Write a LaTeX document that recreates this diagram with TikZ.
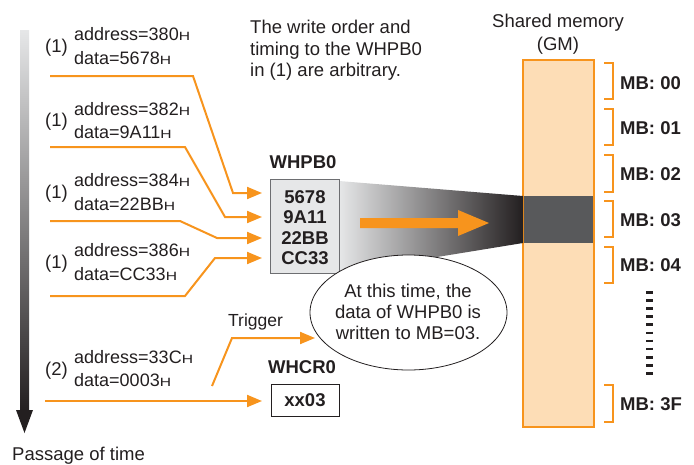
\documentclass[tikz,border=0pt]{standalone}
\usepackage{fontspec}
\usepackage{graphicx}
\setmainfont{Liberation Sans}
\usetikzlibrary{arrows.meta,shapes.geometric}
\definecolor{org}{HTML}{F7941D}
\definecolor{peach}{HTML}{FDDDB6}
\definecolor{txt}{HTML}{231F20}
\definecolor{boxgray}{HTML}{E6E7E8}
\definecolor{boxline}{HTML}{6D6E71}
\definecolor{darkblk}{HTML}{58595B}
\newcommand\Hsm{\scalebox{1.3}[1]{\fontsize{12}{12}\selectfont H}}
\begin{document}
\begin{tikzpicture}[x=1pt,y=-1pt,
  lbl/.style={inner sep=0pt,anchor=base west,text=txt,font=\fontsize{18}{20}\selectfont},
  plbl/.style={inner sep=0pt,anchor=base west,text=txt,font=\fontsize{18.5}{20}\selectfont},
  txtc/.style={inner sep=0pt,anchor=base,text=txt,font=\fontsize{18.5}{22}\selectfont},
  txtw/.style={inner sep=0pt,anchor=base west,text=txt,font=\fontsize{18.5}{22}\selectfont},
  bld/.style={inner sep=0pt,anchor=base,text=txt,font=\bfseries\fontsize{18.5}{22}\selectfont},
  bldw/.style={inner sep=0pt,anchor=base west,text=txt,font=\bfseries\fontsize{18.5}{22}\selectfont},
  oline/.style={draw=org,line width=2pt,-{Triangle[length=15pt,width=12pt]}},
  brk/.style={draw=org,line width=2pt}]
\useasboundingbox (0,0) rectangle (694,464);

% time arrow
\shade[top color=boxgray,bottom color=txt] (20,30) rectangle (29,411);
\fill[txt] (16,410) -- (33,410) -- (24.5,433) -- cycle;
\node[txtw] (pot) at (12,460) {Passage of time};

% note
\node[txtw] (n1) at (250,33) {The write order and};
\node[txtw] (n2) at (250,55) {timing to the WHPB0};
\node[txtw] (n3) at (250,76) {in (1) are arbitrary.};

% labels
\node[plbl] (p1) at (45,52) {(1)};
\node[lbl] (a1) at (74,40) {address=380\Hsm};
\node[lbl] (d1) at (74,64) {data=5678\Hsm};
\node[plbl] (p2) at (45,126) {(1)};
\node[lbl] (a2) at (74,115) {address=382\Hsm};
\node[lbl] (d2) at (74,138) {data=9A11\Hsm};
\node[plbl] (p3) at (45,198) {(1)};
\node[lbl] (a3) at (74,186) {address=384\Hsm};
\node[lbl] (d3) at (74,210) {data=22BB\Hsm};
\node[plbl] (p4) at (45,268) {(1)};
\node[lbl] (a4) at (74,256) {address=386\Hsm};
\node[lbl] (d4) at (74,280) {data=CC33\Hsm};
\node[plbl] (p5) at (45,375) {(2)};
\node[lbl] (a5) at (74,363) {address=33C\Hsm};
\node[lbl] (d5) at (74,386) {data=0003\Hsm};

% memory
\node[draw=org,line width=2pt,fill=peach,minimum width=71pt,minimum height=367pt,inner sep=0pt] (gm) at (558.5,243.5) {};
\fill[darkblk] (524,196) rectangle (593,243);
\node[txtc] (sm1) at (558,27) {Shared memory};
\node[txtc] (sm2) at (558,50) {(GM)};

% brackets and MB labels
\draw[brk] (604,63) -- (613,63) -- (613,99) -- (604,99);
\draw[brk] (604,109) -- (613,109) -- (613,145) -- (604,145);
\draw[brk] (604,155) -- (613,155) -- (613,192) -- (604,192);
\draw[brk] (604,201) -- (613,201) -- (613,237) -- (604,237);
\draw[brk] (604,247) -- (613,247) -- (613,283) -- (604,283);
\draw[brk] (604,385) -- (613,385) -- (613,422) -- (604,422);
\node[bldw] (mb0) at (620,89) {MB: 00};
\node[bldw] (mb1) at (620,134) {MB: 01};
\node[bldw] (mb2) at (620,180) {MB: 02};
\node[bldw] (mb3) at (620,226) {MB: 03};
\node[bldw] (mb4) at (620,271) {MB: 04};
\node[bldw] (mbf) at (620,410) {MB: 3F};
\draw[txt,line width=7pt,dash pattern=on 2.7pt off 5.4pt] (649.5,291) -- (649.5,375);

% funnel
\shade[left color=boxgray,right color=txt] (339,181) -- (523,196) -- (523,243) -- (339,273) -- cycle;

% WHPB0 box
\node[bld] (wl) at (303,168) {WHPB0};
\node[draw=boxline,fill=boxgray,line width=0.8pt,minimum width=69pt,minimum height=94pt,inner sep=0pt] (wb) at (304.5,226) {};
\node[bld] (w1) at (305,203) {5678};
\node[bld] (w2) at (305,223) {9A11};
\node[bld] (w3) at (305,244) {22BB};
\node[bld] (w4) at (305,264) {CC33};

% big arrow
\fill[org] (360,218) -- (458,218) -- (458,210) -- (489,223) -- (458,236) -- (458,228) -- (360,228) -- cycle;

% ellipse
\node[ellipse,draw=txt,line width=0.8pt,fill=white,minimum width=197pt,minimum height=115pt,inner sep=0pt] (ell) at (408.5,312.5) {};
\node[txtc] (e1) at (408,297) {At this time, the};
\node[txtc] (e2) at (408,318) {data of WHPB0 is};
\node[txtc] (e3) at (408,339) {written to MB=03.};

% WHCR0
\node[bld] (cl) at (302,373) {WHCR0};
\node[draw=txt,line width=0.8pt,fill=white,minimum width=68pt,minimum height=32pt,inner sep=0pt] (cb) at (305,400) {};
\node[bld] (c1) at (305,406) {xx03};
\node[inner sep=0pt,anchor=base west,text=txt,font=\fontsize{17.5}{20}\selectfont] (trg) at (228,326) {Trigger};

% connectors
\coordinate (s1) at (50,76);
\coordinate (s2) at (50,147);
\coordinate (s3) at (50,221);
\coordinate (s4) at (50,296);
\coordinate (s5) at (45,401);
\coordinate (t0) at (212,386);
\coordinate (q1) at (262,193);
\coordinate (q2) at (262,217);
\coordinate (q3) at (262,238);
\coordinate (q4) at (262,258);
\coordinate (q5) at (262,401);
\coordinate (tq) at (315,338);
\draw[oline] (s1) -- (193,76) -- (233,193) -- (q1);
\draw[oline] (s2) -- (185,147) -- (225,217) -- (q2);
\draw[oline] (s3) -- (180,221) -- (217,238) -- (q3);
\draw[oline] (s4) -- (185,296) -- (215,258) -- (q4);
\draw[oline] (s5) -- (q5);
\draw[oline] (t0) -- (232,338) -- (tq);
\end{tikzpicture}
\end{document}
